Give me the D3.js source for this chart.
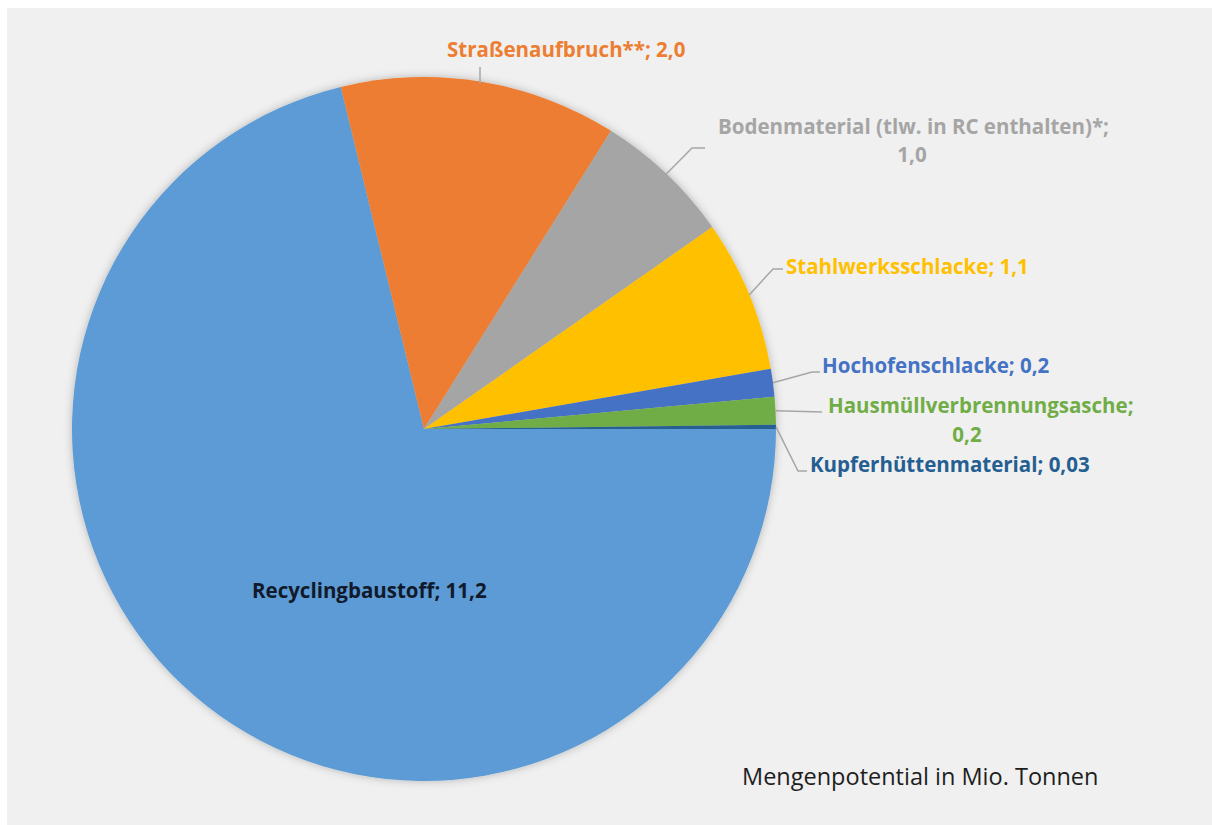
<!DOCTYPE html>
<html>
<head>
<meta charset="utf-8">
<script src="https://cdn.jsdelivr.net/npm/d3@7"></script>
<style>
  html, body { margin: 0; padding: 0; background: #fff; }
  text { font-family: 'Open Sans', Lato, sans-serif; }
</style>
</head>
<body>
<div id="viz"></div>
<script>
// data
const categories = ['Recyclingbaustoff', 'Straßenaufbruch**', 'Bodenmaterial (tlw. in RC enthalten)*',
  'Stahlwerksschlacke', 'Hochofenschlacke', 'Hausmüllverbrennungsasche', 'Kupferhüttenmaterial'];
const values = [11.2, 2.0, 1.0, 1.1, 0.2, 0.2, 0.03];
const valueLabels = ['11,2', '2,0', '1,0', '1,1', '0,2', '0,2', '0,03'];
const caption = 'Mengenpotential in Mio. Tonnen';

const colors = ['#5b9bd5', '#ed7d31', '#a5a5a5', '#ffc000', '#4472c4', '#70ad47', '#255e91'];
const textColors = ['#111a2b', '#ed7d31', '#a5a5a5', '#ffc000', '#4472c4', '#70ad47', '#255e91'];

// hand placed label layout (like the excel original)
// wrap: second line (value) placed separately
const labelLayout = [
  {x: 252, y: 598},
  {x: 447, y: 57, leader: [[480, 67]]},
  {x: 718, y: 134, wrap: {x: 912, y: 162}, leader: [[692, 148], [705, 148]]},
  {x: 786, y: 274, leader: [[773, 269], [783, 269]]},
  {x: 822, y: 373, leader: [[812, 372], [820, 372]]},
  {x: 828, y: 413, wrap: {x: 967, y: 442}, leader: [[822, 412]]},
  {x: 810, y: 472, leader: [[798, 471], [807, 471]]}
];

const width = 1212, height = 825;
const cx = 424, cy = 429, radius = 352;
const labelSize = 20.5;

const svg = d3.select('#viz').append('svg')
  .attr('width', width)
  .attr('height', height);

const defs = svg.append('defs');
const shadow = defs.append('filter').attr('id', 'shadow')
  .attr('x', '-10%').attr('y', '-10%').attr('width', '120%').attr('height', '120%');
shadow.append('feDropShadow')
  .attr('dx', 0).attr('dy', 0)
  .attr('stdDeviation', 4)
  .attr('flood-color', '#000')
  .attr('flood-opacity', 0.25);

svg.append('rect')
  .attr('x', 7).attr('y', 8)
  .attr('width', width - 7).attr('height', height - 8)
  .attr('fill', '#f0f0f0');

const pie = d3.pie()
  .sort(null)
  .value(d => d)
  .startAngle(Math.PI / 2)
  .endAngle(Math.PI / 2 + 2 * Math.PI);

const arcs = pie(values);
const arc = d3.arc().innerRadius(0).outerRadius(radius);

const g = svg.append('g').attr('transform', `translate(${cx},${cy})`);

g.append('g').attr('filter', 'url(#shadow)')
  .selectAll('path')
  .data(arcs)
  .join('path')
  .attr('d', arc)
  .attr('fill', (d, i) => colors[i]);

// leader lines
const line = d3.line();
arcs.forEach((d, i) => {
  const lay = labelLayout[i];
  if (!lay.leader) return;
  const mid = (d.startAngle + d.endAngle) / 2;
  const start = [cx + radius * Math.sin(mid), cy - radius * Math.cos(mid)];
  let pts = [start].concat(lay.leader);
  if (i === 1) pts = [[lay.leader[0][0], start[1] + 2], lay.leader[0]];
  svg.append('path')
    .attr('d', line(pts))
    .attr('fill', 'none')
    .attr('stroke', '#a6a6a6')
    .attr('stroke-width', 1.5);
});

// labels
arcs.forEach((d, i) => {
  const lay = labelLayout[i];
  const t = svg.append('text')
    .attr('font-size', labelSize)
    .attr('font-weight', 700)
    .attr('fill', textColors[i]);
  if (lay.wrap) {
    t.append('tspan').attr('x', lay.x).attr('y', lay.y).text(categories[i] + ';');
    svg.append('text')
      .attr('x', lay.wrap.x).attr('y', lay.wrap.y)
      .attr('text-anchor', 'middle')
      .attr('font-size', labelSize)
      .attr('font-weight', 700)
      .attr('fill', textColors[i])
      .text(valueLabels[i]);
  } else {
    t.attr('x', lay.x).attr('y', lay.y).text(categories[i] + '; ' + valueLabels[i]);
  }
});

svg.append('text')
  .attr('x', 742).attr('y', 785)
  .attr('font-size', 23.5)
  .attr('fill', '#1e1e1e')
  .text(caption);
</script>
</body>
</html>
